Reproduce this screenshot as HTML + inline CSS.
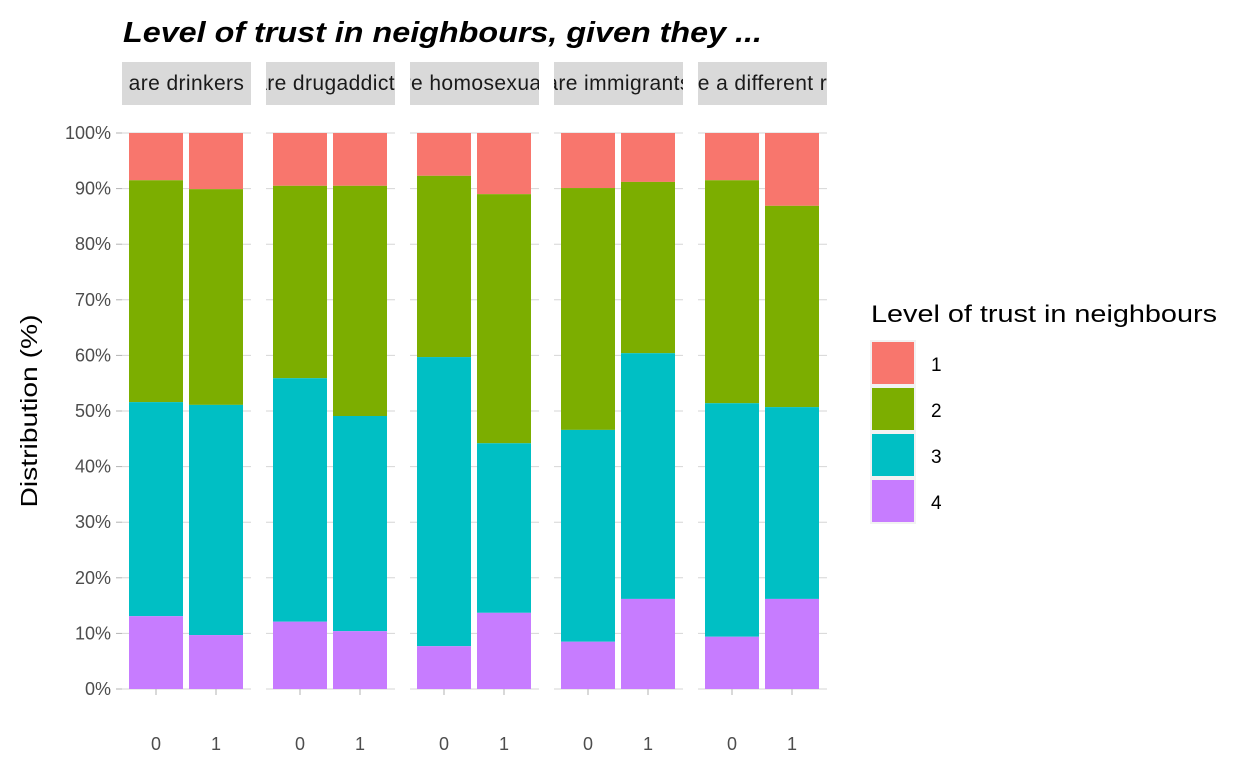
<!DOCTYPE html>
<html><head><meta charset="utf-8"><style>
body{margin:0;background:#fff;}
svg{display:block;font-family:"Liberation Sans",sans-serif;}
</style></head><body>
<svg id="c" width="1248" height="768"></svg>
<script>
const facets=["are drinkers","are drugaddicts","are homosexuals","are immigrants","have a different race"];
const groups=["0","1"];
const levels=["1","2","3","4"];
const colors=["#F8766D","#7CAE00","#00BFC4","#C77CFF"];
// cumulative tops: level4, level3 (4+3), level2 (4+3+2) per facet per group
const top4=[[13.1,9.7],[12.1,10.4],[7.7,13.7],[8.5,16.2],[9.4,16.2]];
const top3=[[51.6,51.1],[55.9,49.1],[59.7,44.2],[46.6,60.4],[51.4,50.7]];
const top2=[[91.5,89.9],[90.5,90.5],[92.3,89.0],[90.1,91.2],[91.5,86.9]];
const yTicks=[0,10,20,30,40,50,60,70,80,90,100];

const NS="http://www.w3.org/2000/svg";
const svg=document.getElementById('c');
function mk(t,a,p){const e=document.createElementNS(NS,t);for(const k in a)e.setAttribute(k,a[k]);(p||svg).appendChild(e);return e;}
const y0=689,y1=133;
const y=v=>y0-(y0-y1)*v/100;
const panelX=i=>122+i*144, panelW=129;
const barX=(i,g)=>panelX(i)+7+g*60, barW=54;

let t=mk('text',{x:123,y:42,'font-size':29,'font-weight':'bold','font-style':'italic',fill:'#000',textLength:639,lengthAdjust:'spacingAndGlyphs'});

t.textContent="Level of trust in neighbours, given they ...";

yTicks.forEach(v=>{
  let l=mk('text',{x:111,y:y(v)+6,'font-size':18,fill:'#4d4d4d','text-anchor':'end'});
  
  l.textContent=v+"%";
  let tk=mk('line',{x1:116,x2:122,y1:y(v),y2:y(v),stroke:'#b3b3b3','stroke-width':1});
  
});
let yt=mk('text',{transform:'translate(37,411) rotate(-90)','font-size':23,fill:'#000','text-anchor':'middle',textLength:193,lengthAdjust:'spacingAndGlyphs'});

yt.textContent="Distribution (%)";

const defs=mk('defs',{});
facets.forEach((f,i)=>{
  const px=panelX(i);
  yTicks.forEach(v=>{let g=mk('line',{x1:px,x2:px+panelW,y1:y(v),y2:y(v),stroke:'#d6d6d6','stroke-width':1});
    });
  let cp=mk('clipPath',{id:'cp'+i},defs);mk('rect',{x:px,y:62,width:panelW,height:43},cp);
  let s=mk('rect',{x:px,y:62,width:panelW,height:43,fill:'#d9d9d9'});
  
  let st=mk('text',{x:px+panelW/2,y:90,'font-size':21,fill:'#1a1a1a','text-anchor':'middle','clip-path':'url(#cp'+i+')',style:'letter-spacing:0.4px'});
  
  st.textContent=f;
  groups.forEach((gname,g)=>{
    const bounds=[100,top2[i][g],top3[i][g],top4[i][g],0];
    for(let k=0;k<4;k++){
      let r=mk('rect',{x:barX(i,g),y:y(bounds[k]),width:barW,height:y(bounds[k+1])-y(bounds[k]),fill:colors[k]});
      
    }
    const cx=barX(i,g)+barW/2;
    let tk=mk('line',{x1:cx,x2:cx,y1:689,y2:695,stroke:'#b3b3b3'});
    
    let xl=mk('text',{x:cx,y:750,'font-size':18,fill:'#4d4d4d','text-anchor':'middle'});
    
    xl.textContent=gname;
  });
});

let lt=mk('text',{x:871,y:322,'font-size':24,fill:'#000',textLength:346,lengthAdjust:'spacingAndGlyphs'});

lt.textContent="Level of trust in neighbours";
levels.forEach((lv,k)=>{
  let r=mk('rect',{x:871,y:341+k*46,width:44,height:44,fill:colors[k],stroke:'#f2f2f2','stroke-width':2});
  
  let tx=mk('text',{x:931,y:371+k*46,'font-size':19,fill:'#000'});
  
  tx.textContent=lv;
});
</script>
</body></html>
